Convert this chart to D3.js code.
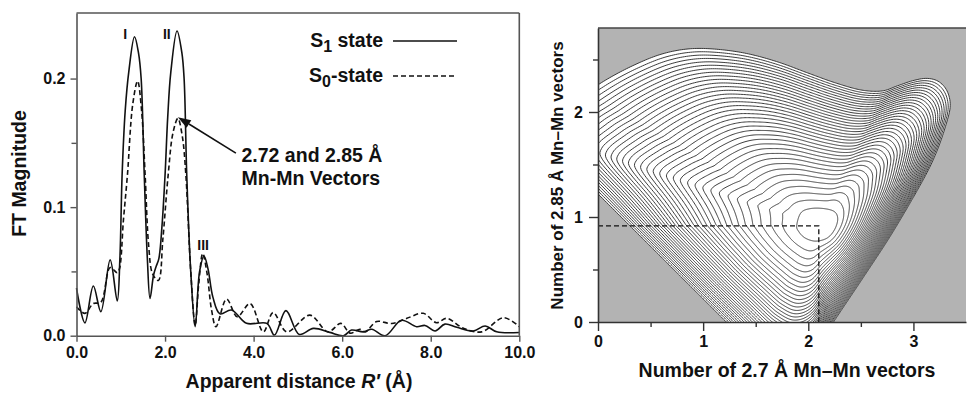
<!DOCTYPE html>
<html><head><meta charset="utf-8">
<script src="https://cdn.jsdelivr.net/npm/d3@7"></script>
<style>
body{margin:0;background:#fff}
svg{display:block}
text{font-family:"Liberation Sans",Arial,Helvetica,sans-serif;font-weight:bold;fill:#111}
</style>
</head><body>
<svg id="chart" width="967" height="393"></svg>
<script>
// ---------------- Left panel data (FT magnitude vs apparent distance) ----------------
const s1R = [0.00,0.19,0.38,0.55,0.76,0.92,0.98,1.03,1.10,1.18,1.31,1.40,1.46,1.53,1.60,1.66,1.74,1.80,1.86,1.93,2.00,2.06,2.13,2.27,2.38,2.43,2.49,2.58,2.68,2.78,2.88,2.97,3.08,3.24,3.50,3.84,4.30,4.47,4.73,5.03,5.35,5.72,6.03,6.21,6.48,6.67,6.97,7.34,7.68,7.87,8.10,8.32,8.59,8.96,9.23,9.49,10.0];
const s1Mag = [0.037,0.010,0.0386,0.0187,0.059,0.027,0.06,0.125,0.175,0.205,0.2325,0.22,0.20,0.125,0.06,0.029,0.047,0.054,0.06,0.085,0.125,0.17,0.205,0.237,0.22,0.20,0.125,0.05,0.007,0.05,0.062,0.052,0.03,0.017,0.020,0.0096,0.0096,0.0005,0.0195,0.001,0.0057,0.0026,0.0,0.0044,0.003,0.005,0.0,0.012,0.007,0.008,0.0037,0.009,0.0065,0.0037,0.0075,0.003,0.0025];
const s0R = [0.00,0.19,0.38,0.55,0.76,0.92,0.97,1.06,1.15,1.27,1.38,1.47,1.55,1.63,1.72,1.85,1.95,2.07,2.18,2.29,2.39,2.47,2.58,2.68,2.76,2.85,2.95,3.05,3.15,3.39,3.63,3.92,4.22,4.44,4.75,5.27,5.68,5.97,6.18,6.40,6.52,6.78,7.12,7.46,7.83,8.13,8.36,8.74,9.15,9.64,10.0];
const s0Mag = [0.0226,0.0174,0.025,0.026,0.053,0.049,0.052,0.09,0.125,0.18,0.198,0.175,0.125,0.07,0.048,0.043,0.075,0.125,0.158,0.169,0.155,0.125,0.05,0.008,0.04,0.064,0.048,0.02,0.007,0.0285,0.0148,0.025,0.003,0.018,0.003,0.016,0.003,0.0096,0.002,0.005,0.003,0.011,0.0095,0.0135,0.0174,0.0101,0.0135,0.0057,0.003,0.014,0.007];
const ftXTicks = [0,2,4,6,8,10];
const ftYTicks = [0,0.1,0.2];
const ftYMinor = [0.05,0.15];
const peakNames = ["I","II","III"];
const peakR = [1.10,2.04,2.86];
const peakMag = [0.231,0.231,0.067];
const legendNames = [["S","1"," state"],["S","0","-state"]];
const annotLines = ["2.72 and 2.85 Å","Mn-Mn Vectors"];
const arrowFrom = [3.60,0.142];
const arrowTo = [2.29,0.170];

// ---------------- Right panel data (fit-error contour map) ----------------
const n27Ticks = [0,1,2,3];
const n285Ticks = [0,1,2];
const n27Minor = [0.5,1.5,2.5];
const n285Minor = [0.5,1.5,2.5];
const bestFit = [2.10,0.915];
const contourCenter = [2.07,0.93];
const innerContour = [[1.89,0.92],[1.93,1.04],[2.02,1.08],[2.15,1.08],[2.25,1.05],[2.28,0.98],[2.25,0.88],[2.18,0.80],[2.07,0.77],[1.97,0.80],[1.91,0.86]];
const outerContour = [[1.78,-0.45],[2.02,-0.35],[2.24,0.0],[2.52,0.42],[2.80,0.85],[3.09,1.35],[3.22,1.62],[3.31,1.88],[3.35,2.06],[3.32,2.20],[3.24,2.29],[3.13,2.32],[3.00,2.30],[2.85,2.25],[2.70,2.20],[2.50,2.21],[2.25,2.28],[2.00,2.37],[1.70,2.48],[1.40,2.56],[1.10,2.60],[0.85,2.60],[0.60,2.55],[0.35,2.45],[0.10,2.32],[-0.15,2.16],[-0.30,2.05],[-0.50,1.85],[-0.45,1.67],[0.00,1.22],[0.60,0.62],[1.22,0.0],[1.55,-0.33]];
const contourCount = 36;
const spacingAngle = [-180,-150,-115,-90,-45,0,30,60,90,120,150,165,180];
const spacingExp   = [0.40,0.38,0.42,0.50,0.45,0.45,0.48,0.55,0.62,0.68,0.70,0.58,0.40];

// ---------------- Drawing ----------------
const svg = d3.select("#chart");

// ===== Left panel =====
const xL = d3.scaleLinear().domain([0,10]).range([76.5,519.3]);
const yL = d3.scaleLinear().domain([0,0.251]).range([335.7,13]);
const gL = svg.append("g");

const line = (R,M) => d3.line().x((d,i)=>xL(R[i])).y((d,i)=>yL(M[i])).curve(d3.curveCatmullRom.alpha(0.5))(M);
gL.append("path").attr("d", line(s0R,s0Mag)).attr("fill","none").attr("stroke","#111").attr("stroke-width",1.6).attr("stroke-dasharray","5,3");
gL.append("path").attr("d", line(s1R,s1Mag)).attr("fill","none").attr("stroke","#111").attr("stroke-width",1.6);

// frame
gL.append("line").attr("x1",xL(0)).attr("x2",xL(10)).attr("y1",yL.range()[1]).attr("y2",yL.range()[1]).attr("stroke","#555").attr("stroke-width",1.6);
gL.append("line").attr("x1",xL(10)).attr("x2",xL(10)).attr("y1",yL.range()[1]).attr("y2",yL(0)).attr("stroke","#555").attr("stroke-width",1.6);

const axStyle = (g, col) => {
  g.selectAll(".domain").attr("stroke",col).attr("stroke-width",1.6);
  g.selectAll(".tick line").attr("stroke",col).attr("stroke-width",1.4);
  g.selectAll(".tick text").attr("font-size",16).attr("font-family","Liberation Sans, Arial, sans-serif").attr("font-weight","bold").attr("fill","#111");
};
const xAxL = gL.append("g").attr("transform",`translate(0,${yL(0)})`)
  .call(d3.axisBottom(xL).tickValues(ftXTicks).tickFormat(d3.format(".1f")).tickSize(6).tickPadding(5).tickSizeOuter(0));
axStyle(xAxL,"#555");
const yAxL = gL.append("g").attr("transform",`translate(${xL(0)},0)`)
  .call(d3.axisLeft(yL).tickValues(ftYTicks).tickFormat(d3.format(".1f")).tickSize(6).tickPadding(5).tickSizeOuter(0));
axStyle(yAxL,"#555");
gL.append("g").attr("transform",`translate(${xL(0)},0)`)
  .call(d3.axisLeft(yL).tickValues(ftYMinor).tickFormat("").tickSize(5).tickSizeOuter(0))
  .call(g=>{g.select(".domain").remove(); g.selectAll("line").attr("stroke","#555").attr("stroke-width",1.4);});

// peak labels
peakNames.forEach((p,i)=>{
  gL.append("text").attr("x",xL(peakR[i])).attr("y",yL(peakMag[i])).attr("text-anchor","middle").attr("font-size",14).text(p);
});

// legend
legendNames.forEach((l,i)=>{
  const yb = [47,82][i];
  const t = gL.append("text").attr("x",383).attr("y",yb).attr("text-anchor","end").attr("font-size",19.5);
  t.append("tspan").text(l[0]);
  t.append("tspan").attr("font-size",16).attr("dy",5).text(l[1]);
  t.append("tspan").attr("dy",-5).text(l[2]);
  gL.append("line").attr("x1",393).attr("x2",457).attr("y1",yb-6).attr("y2",yb-6)
    .attr("stroke","#111").attr("stroke-width",1.6).attr("stroke-dasharray", i===0?null:"5,3");
});

// annotation
annotLines.forEach((s,i)=>{
  gL.append("text").attr("x",241.5).attr("y",162+i*23).attr("font-size",19.5).text(s);
});
{
  const x1=xL(arrowFrom[0]), y1=yL(arrowFrom[1]), x2=xL(arrowTo[0]), y2=yL(arrowTo[1]);
  const ang = Math.atan2(y2-y1,x2-x1), L=13, W=4.5;
  const bx = x2 - L*Math.cos(ang), by = y2 - L*Math.sin(ang);
  gL.append("line").attr("x1",x1).attr("y1",y1).attr("x2",bx).attr("y2",by).attr("stroke","#111").attr("stroke-width",1.6);
  gL.append("path").attr("d",`M${x2},${y2}L${bx+W*Math.sin(ang)},${by-W*Math.cos(ang)}L${bx-W*Math.sin(ang)},${by+W*Math.cos(ang)}Z`).attr("fill","#111");
}

// axis titles
gL.append("text").attr("transform","translate(26,173.5) rotate(-90)").attr("text-anchor","middle").attr("font-size",19.5).text("FT Magnitude");
{
  const t = gL.append("text").attr("x",299).attr("y",388).attr("text-anchor","middle").attr("font-size",19.5);
  t.append("tspan").text("Apparent distance ");
  t.append("tspan").attr("font-style","italic").text("R′");
  t.append("tspan").text(" (Å)");
}

// ===== Right panel =====
const xR = d3.scaleLinear().domain([0,3.5]).range([598,966]);
const yR = d3.scaleLinear().domain([0,2.8]).range([322,28]);
const gR = svg.append("g");
svg.append("defs").append("clipPath").attr("id","clipR").append("rect")
  .attr("x",xR(0)).attr("y",yR(2.8)).attr("width",xR(3.5)-xR(0)).attr("height",yR(0)-yR(2.8));

gR.append("rect").attr("x",xR(0)).attr("y",yR(2.8)).attr("width",xR(3.5)-xR(0)).attr("height",yR(0)-yR(2.8)).attr("fill","#b3b3b3");

function densify(pts,n){
  const out=[], m=pts.length;
  for(let i=0;i<m;i++){
    const p0=pts[(i-1+m)%m],p1=pts[i],p2=pts[(i+1)%m],p3=pts[(i+2)%m];
    for(let j=0;j<n;j++){
      const t=j/n,t2=t*t,t3=t2*t;
      const f=(a,b,c,d)=>0.5*(2*b+(-a+c)*t+(2*a-5*b+4*c-d)*t2+(-a+3*b-3*c+d)*t3);
      out.push([f(p0[0],p1[0],p2[0],p3[0]),f(p0[1],p1[1],p2[1],p3[1])]);
    }
  }
  return out;
}
function rayHit(poly,c,th){
  const dx=Math.cos(th),dy=Math.sin(th);let best=0;
  for(let i=0;i<poly.length;i++){
    const a=poly[i],b=poly[(i+1)%poly.length];
    const ex=b[0]-a[0],ey=b[1]-a[1];
    const den=-dx*ey+dy*ex; if(Math.abs(den)<1e-12)continue;
    const rx=a[0]-contourCenter[0],ry=a[1]-contourCenter[1];
    const t=(-rx*ey+ry*ex)/den, s=(dx*ry-dy*rx)/den;
    if(s>=-1e-9&&s<=1+1e-9&&t>0)best=Math.max(best,t);
  }
  return best;
}
const innerD = densify(innerContour,12), outerD = densify(outerContour,12);
const expAt = d3.scaleLinear().domain(spacingAngle).range(spacingExp);
const nA = 720, u0 = 0.04;
const rays = d3.range(nA).map(i=>{
  const th = -Math.PI + 2*Math.PI*i/nA;
  return {th, rin: rayHit(innerD,contourCenter,th), rout: rayHit(outerD,contourCenter,th), e: expAt(th*180/Math.PI)};
});
const contourPts = k => rays.map(r=>{
  const u=k/contourCount;
  const h=(Math.pow(u+u0,r.e)-Math.pow(u0,r.e))/(Math.pow(1+u0,r.e)-Math.pow(u0,r.e));
  const rr=r.rin+(r.rout-r.rin)*h;
  return [contourCenter[0]+rr*Math.cos(r.th), contourCenter[1]+rr*Math.sin(r.th)];
});
const cLine = d3.line().x(d=>xR(d[0])).y(d=>yR(d[1])).curve(d3.curveLinearClosed);
const gC = gR.append("g").attr("clip-path","url(#clipR)");
gC.append("path").attr("d",cLine(contourPts(contourCount))).attr("fill","#fff");
d3.range(0,contourCount+1).forEach(k=>{
  gC.append("path").attr("d",cLine(contourPts(k))).attr("fill","none").attr("stroke","#262626").attr("stroke-width",0.9);
});

// best-fit dashed guides
gC.append("path").attr("d",`M${xR(0)},${yR(bestFit[1])}H${xR(bestFit[0])}V${yR(0)}`)
  .attr("fill","none").attr("stroke","#111").attr("stroke-width",1.3).attr("stroke-dasharray","5,3");

// frame & axes
gR.append("line").attr("x1",xR(0)).attr("x2",xR(3.5)).attr("y1",yR(2.8)).attr("y2",yR(2.8)).attr("stroke","#444").attr("stroke-width",1.4);
const xAxR = gR.append("g").attr("transform",`translate(0,${yR(0)})`)
  .call(d3.axisBottom(xR).tickValues(n27Ticks).tickFormat(d3.format("d")).tickSize(9).tickPadding(5).tickSizeOuter(0));
axStyle(xAxR,"#333");
gR.append("g").attr("transform",`translate(0,${yR(0)})`)
  .call(d3.axisBottom(xR).tickValues(n27Minor).tickFormat("").tickSize(5).tickSizeOuter(0))
  .call(g=>{g.select(".domain").remove(); g.selectAll("line").attr("stroke","#333").attr("stroke-width",1.4);});
const yAxR = gR.append("g").attr("transform",`translate(${xR(0)},0)`)
  .call(d3.axisLeft(yR).tickValues(n285Ticks).tickFormat(d3.format("d")).tickSize(9).tickPadding(6).tickSizeOuter(0));
axStyle(yAxR,"#333");
gR.append("g").attr("transform",`translate(${xR(0)},0)`)
  .call(d3.axisLeft(yR).tickValues(n285Minor).tickFormat("").tickSize(5).tickSizeOuter(0))
  .call(g=>{g.select(".domain").remove(); g.selectAll("line").attr("stroke","#333").attr("stroke-width",1.4);});

gR.append("text").attr("transform","translate(563,175.5) rotate(-90)").attr("text-anchor","middle").attr("font-size",17).text("Number of 2.85 Å Mn–Mn vectors");
gR.append("text").attr("x",787).attr("y",377).attr("text-anchor","middle").attr("font-size",19.5).text("Number of 2.7 Å Mn–Mn vectors");
</script>
</body></html>
